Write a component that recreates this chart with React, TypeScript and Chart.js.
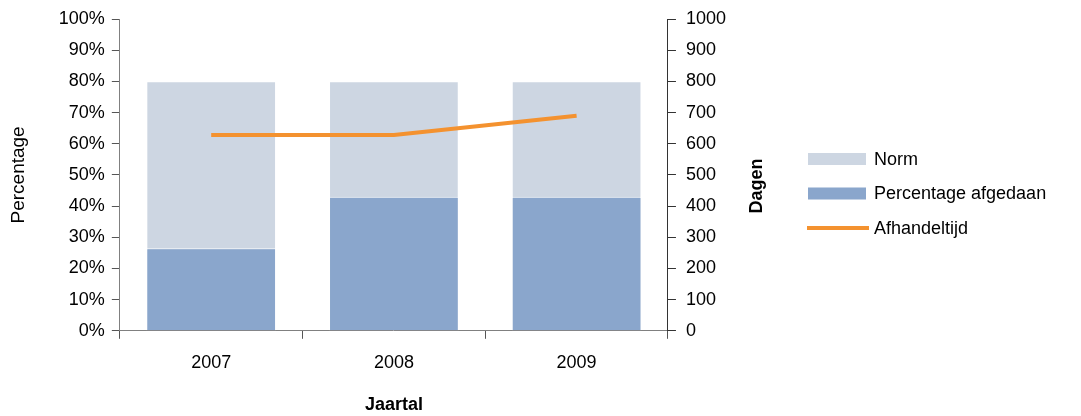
import React, { useEffect, useRef } from "react";
import { Chart, registerables } from "chart.js";

Chart.register(...registerables);

const categories = ["2007", "2008", "2009"];
const normValues = [80, 80, 80];
const percentageValues = [26.5, 43, 43];
const afhandeltijdValues = [628, 628, 690];
const seriesLabels = ["Norm", "Percentage afgedaan", "Afhandeltijd"];
const xTitle = "Jaartal";
const yLeftTitle = "Percentage";
const yRightTitle = "Dagen";

const NORM_COLOR = "#CDD6E2";
const PCT_COLOR = "#8AA6CC";
const LINE_COLOR = "#F4922F";
const FONT = "'Liberation Sans', Arial, sans-serif";

const overlayPlugin = {
  id: "overlay",
  afterDraw(chart: any) {
    const ctx = chart.ctx;
    ctx.save();
    // right axis title, reading bottom-to-top
    ctx.font = `bold 18px ${FONT}`;
    ctx.fillStyle = "#000";
    ctx.textAlign = "center";
    ctx.textBaseline = "middle";
    ctx.translate(757, 186);
    ctx.rotate(-Math.PI / 2);
    ctx.fillText(yRightTitle, 0, 0);
    ctx.restore();

    // legend
    ctx.save();
    ctx.font = `18px ${FONT}`;
    ctx.textAlign = "left";
    ctx.textBaseline = "middle";
    const rows = [159, 193.5, 228];
    const ds = chart.data.datasets;
    ds.forEach((d: any, i: number) => {
      const y = rows[i];
      if (d.type === "line") {
        ctx.strokeStyle = d.borderColor;
        ctx.lineWidth = 4;
        ctx.beginPath();
        ctx.moveTo(807, y);
        ctx.lineTo(869, y);
        ctx.stroke();
      } else {
        ctx.fillStyle = d.backgroundColor;
        ctx.fillRect(808, y - 6, 58, 12);
      }
      ctx.fillStyle = "#000";
      ctx.fillText(d.label, 874, y + 1);
    });
    ctx.restore();
  },
};

export default function App() {
  const canvasRef = useRef<HTMLCanvasElement | null>(null);

  useEffect(() => {
    document.body.style.margin = "0";
    const canvas = canvasRef.current;
    if (!canvas) return;
    Chart.defaults.font.family = FONT;
    Chart.defaults.color = "#000";
    const chart = new Chart(canvas, {
      type: "bar",
      data: {
        labels: categories,
        datasets: [
          {
            type: "bar",
            label: seriesLabels[0],
            data: normValues,
            backgroundColor: NORM_COLOR,
            borderColor: "rgba(255,255,255,0.7)",
            borderWidth: 1,
            borderSkipped: "bottom",
            yAxisID: "y",
            order: 3,
          },
          {
            type: "bar",
            label: seriesLabels[1],
            data: percentageValues,
            backgroundColor: PCT_COLOR,
            borderColor: "rgba(255,255,255,0.9)",
            borderWidth: 1,
            borderSkipped: "bottom",
            yAxisID: "y",
            order: 2,
          },
          {
            type: "line",
            label: seriesLabels[2],
            data: afhandeltijdValues,
            borderColor: LINE_COLOR,
            backgroundColor: LINE_COLOR,
            borderWidth: 4,
            pointRadius: 0,
            tension: 0,
            yAxisID: "y1",
            order: 1,
          },
        ] as any,
      },
      options: {
        responsive: false,
        animation: false,
        layout: { padding: { top: 18, right: 345, bottom: 0, left: 0 } },
        plugins: {
          legend: { display: false },
          tooltip: { enabled: false },
        },
        datasets: {
          bar: { categoryPercentage: 1, barPercentage: 0.71 },
        } as any,
        scales: {
          x: {
            stacked: true,
            offset: true,
            grid: {
              offset: true,
              drawOnChartArea: false,
              drawTicks: true,
              tickLength: 8,
              tickColor: "#555",
            },
            border: { color: "#808080", width: 1 },
            ticks: { font: { size: 18 }, padding: 13, color: "#000" },
            title: {
              display: true,
              text: xTitle,
              font: { size: 18, weight: "bold" },
              padding: { top: 8, bottom: 0 },
              color: "#000",
            },
          },
          y: {
            position: "left",
            stacked: false,
            min: 0,
            max: 100,
            ticks: {
              stepSize: 10,
              font: { size: 18, lineHeight: 1 },
              padding: 7,
              color: "#000",
              callback: (v: any) => `${v}%`,
            },
            grid: {
              drawOnChartArea: false,
              drawTicks: true,
              tickLength: 8,
              tickColor: "#555",
            },
            border: { color: "#808080", width: 1 },
            title: {
              display: true,
              text: yLeftTitle,
              font: { size: 19 },
              padding: { top: 7, bottom: 22 },
              color: "#000",
            },
          },
          y1: {
            position: "right",
            min: 0,
            max: 1000,
            ticks: {
              stepSize: 100,
              font: { size: 18, lineHeight: 1 },
              padding: 10,
              color: "#000",
              callback: (v: any) => String(v),
            },
            grid: {
              drawOnChartArea: false,
              drawTicks: true,
              tickLength: 8,
              tickColor: "#333",
            },
            border: { color: "#333", width: 1 },
          },
        },
      } as any,
      plugins: [overlayPlugin],
    });
    return () => chart.destroy();
  }, []);

  return (
    <div style={{ width: 1081, height: 416 }}>
      <canvas ref={canvasRef} width={1081} height={416} />
    </div>
  );
}
